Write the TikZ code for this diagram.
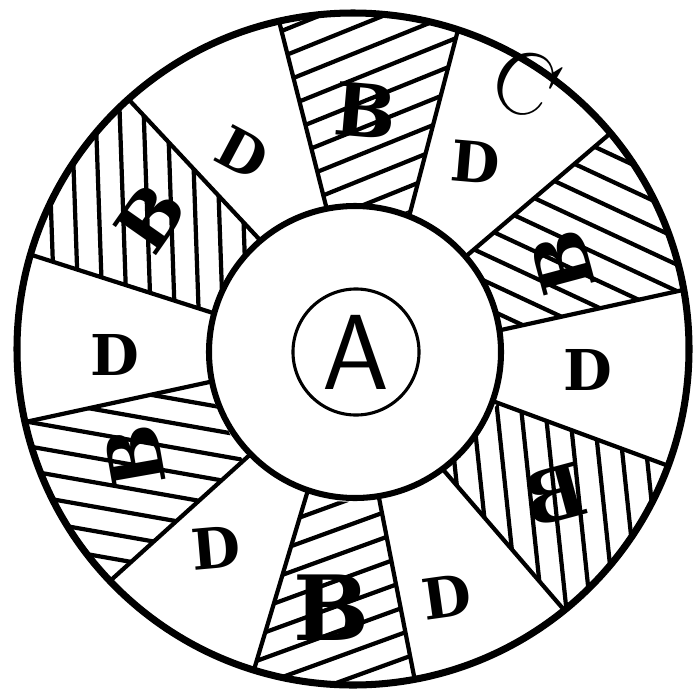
\documentclass[tikz,border=0pt]{standalone}
\usepackage{fontspec}
\newfontfamily\handfont{DejaVu Serif}
\usetikzlibrary{calc}

\begin{document}
\begin{tikzpicture}[x=0.025cm,y=-0.025cm,
  rim/.style={line width=5pt},
  ring/.style={line width=4.3pt,fill=white},
  spoke/.style={line width=3pt},
  hatch/.style={line width=3pt},
  dlab/.style={font=\fontsize{40}{40}\selectfont\handfont\bfseries,inner sep=0pt},
  blab/.style={font=\fontsize{52}{52}\selectfont\handfont\bfseries,inner sep=0pt},
  clab/.style={font=\fontsize{64}{64}\selectfont,inner sep=0pt},
  alab/.style={draw,circle,line width=2.2pt,inner sep=0pt,minimum size=3.15cm,font=\fontsize{76}{76}\selectfont\sffamily}]
\def\R{336}  % outer rim
\def\r{146}  % inner ring
\def\gap{24} % hatch spacing
\useasboundingbox (0,0) rectangle (696,697);
\coordinate (c) at (353,349);
\coordinate (ci) at (355,352);
% spoke ends: inner / outer
\foreach \n/\ix/\iy/\ox/\oy in {1/260/240/132/103, 2/325/202/280/25, 3/410/213/458/30,
  4/471/252/606/137, 5/501/330/683/290, 6/498/403/666/465, 7/446/473/565/611,
  8/380/503/415/681, 9/305/500/253/673, 10/243/461/110/581, 11/205/383/30/421,
  12/210/312/38/257} {
  \coordinate (i\n) at (\ix,\iy);
  \coordinate (o\n) at (\ox,\oy);
}
\begin{scope}
  \clip (c) circle[radius=\R];
  % hatched sectors
  \foreach \a/\b/\ang in {12/1/92, 2/3/22, 4/5/-25, 6/7/96, 8/9/20, 10/11/-10} {
    \begin{scope}
      \clip (i\a) -- ($(i\a)!1.4!(o\a)$) -- ($(i\b)!1.4!(o\b)$) -- (i\b) -- cycle;
      \begin{scope}[shift={($(i\a)!0.5!(o\b)$)},rotate=\ang]
        \foreach \k in {-12,...,12} \draw[hatch] (-300,\k*\gap) -- (300,\k*\gap);
      \end{scope}
    \end{scope}
  }
  \foreach \n in {1,...,12} \draw[spoke] ($(o\n)!1.1!(i\n)$) -- ($(i\n)!1.1!(o\n)$);
\end{scope}
\draw[ring] (ci) circle[radius=\r];
\draw[rim] (c) circle[radius=\R];
\node[alab] (aC) at (356,352) {A};
% sector letters
\node[blab,rotate=55] (bNW) at (150,218) {B};
\node[dlab,rotate=-28] (dNNW) at (243,153) {D};
\node[blab,rotate=-5] (bN) at (366,111) {B};
\node[dlab,rotate=-5] (dNNE) at (476,162) {D};
\node[clab,rotate=-30] (cN) at (525,83) {C};
\node[blab,rotate=105] (bENE) at (563,263) {B};
\node[dlab] (dE) at (588,370) {D};
\node[blab,xscale=-1,rotate=-15] (bESE) at (555,495) {B};
\node[dlab,rotate=8] (dSSE) at (447,597) {D};
\node[blab,font=\fontsize{64}{64}\selectfont\handfont\bfseries] (bS) at (332,608) {B};
\node[dlab,rotate=5] (dSSW) at (216,548) {D};
\node[blab,rotate=100] (bWSW) at (135,457) {B};
\node[dlab] (dW) at (115,355) {D};
\end{tikzpicture}
\end{document}
